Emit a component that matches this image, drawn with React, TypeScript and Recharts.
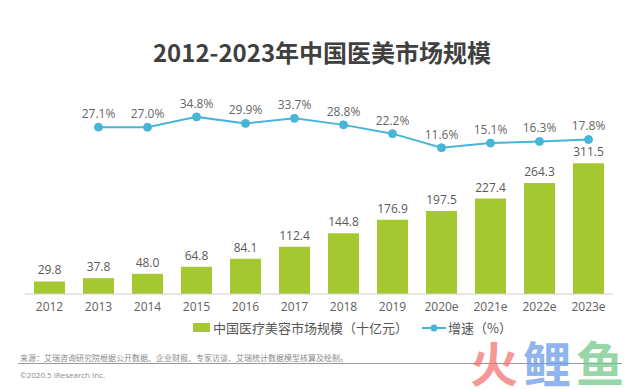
import { Bar, ComposedChart, LabelList, Line, XAxis, YAxis } from 'recharts';

const years = ['2012', '2013', '2014', '2015', '2016', '2017', '2018', '2019', '2020e', '2021e', '2022e', '2023e'];
const marketSize = [29.8, 37.8, 48.0, 64.8, 84.1, 112.4, 144.8, 176.9, 197.5, 227.4, 264.3, 311.5];
const growthRate = [null, 27.1, 27.0, 34.8, 29.9, 33.7, 28.8, 22.2, 11.6, 15.1, 16.3, 17.8];

const sizeLabel = '中国医疗美容市场规模（十亿元）';
const growthLabel = '增速（%）';
const watermark = [
    { ch: '火', color: '#f37575' },
    { ch: '鲤', color: '#6b9be8' },
    { ch: '鱼', color: '#74c98a' },
];

const data = years.map((year, i) => ({
    year,
    size: marketSize[i],
    growth: growthRate[i],
}));

const green = '#a5c72f';
const blue = '#48b5d8';
const font = '"Open Sans", "Noto Sans CJK SC", sans-serif';
const cjk = '"Noto Sans CJK SC", sans-serif';

function App() {
    return (
        <div style={{ position: 'absolute', left: 0, top: 0, width: 644, height: 389, background: '#fff', fontFamily: font, overflow: 'hidden' }}>
            <div style={{ position: 'absolute', top: 34, left: 0, width: 644, textAlign: 'center', fontSize: 24, fontWeight: 'bold', color: '#404040', fontFamily: cjk }}>
                2012-2023年中国医美市场规模
            </div>

            <ComposedChart
                width={644}
                height={389}
                data={data}
                margin={{ top: 100, right: 31, left: 25, bottom: 65 }}
                style={{ position: 'absolute', left: 0, top: 0 }}
            >
                <XAxis
                    dataKey='year'
                    axisLine={{ stroke: '#cfcfcf' }}
                    tickLine={false}
                    tick={{ fill: '#606060', fontSize: 12, fontFamily: font }}
                    interval={0}
                    height={30}
                />
                <YAxis yAxisId='size' hide domain={[0, 462]} />
                <YAxis yAxisId='growth' hide domain={[-98.4, 47.5]} />
                <Bar yAxisId='size' dataKey='size' fill={green} barSize={31} isAnimationActive={false}>
                    <LabelList dataKey='size' position='top' offset={7} fill='#595959' fontSize={12} formatter={(v: any) => Number(v).toFixed(1)} />
                </Bar>
                <Line
                    yAxisId='growth'
                    dataKey='growth'
                    stroke={blue}
                    strokeWidth={2}
                    dot={{ r: 4, fill: blue, stroke: blue, strokeWidth: 1 }}
                    isAnimationActive={false}
                >
                    <LabelList dataKey='growth' position='top' offset={9} fill='#666' fontSize={12} formatter={(v: any) => (v == null ? '' : Number(v).toFixed(1) + '%')} />
                </Line>
            </ComposedChart>

            <div style={{ position: 'absolute', top: 318, left: 193, display: 'flex', alignItems: 'center', fontSize: 13, color: '#555', fontFamily: cjk }}>
                <span style={{ display: 'inline-block', width: 17, height: 9, background: green, marginRight: 3 }} />
                <span>{sizeLabel}</span>
                <svg width={24} height={10} style={{ marginLeft: 14, marginRight: 2 }}>
                    <line x1={0} y1={5} x2={24} y2={5} stroke={blue} strokeWidth={2} />
                    <circle cx={12} cy={5} r={3.5} fill={blue} />
                </svg>
                <span>{growthLabel}</span>
            </div>

            <div style={{ position: 'absolute', top: 352, left: 20, fontSize: 8, color: '#8a8a8a', fontFamily: cjk }}>
                来源：艾瑞咨询研究院根据公开数据、企业财报、专家访谈、艾瑞统计数据模型核算及绘制。
            </div>
            <div style={{ position: 'absolute', top: 363, left: 18, width: 604, height: 1, background: '#9a9a9a' }} />
            <div style={{ position: 'absolute', top: 369, left: 20, fontSize: 8, color: '#8a8a8a' }}>
                ©2020.5 iResearch Inc.
            </div>

            <svg width={160} height={53} style={{ position: 'absolute', top: 336, left: 470 }}>
                {watermark.map((w, i) => (
                    <text key={w.ch} x={i * 53} y={46} fontSize={48} fontWeight='bold' fontFamily={cjk} fill={w.color} opacity={0.75}>
                        {w.ch}
                    </text>
                ))}
            </svg>
        </div>
    );
}

export default App;
